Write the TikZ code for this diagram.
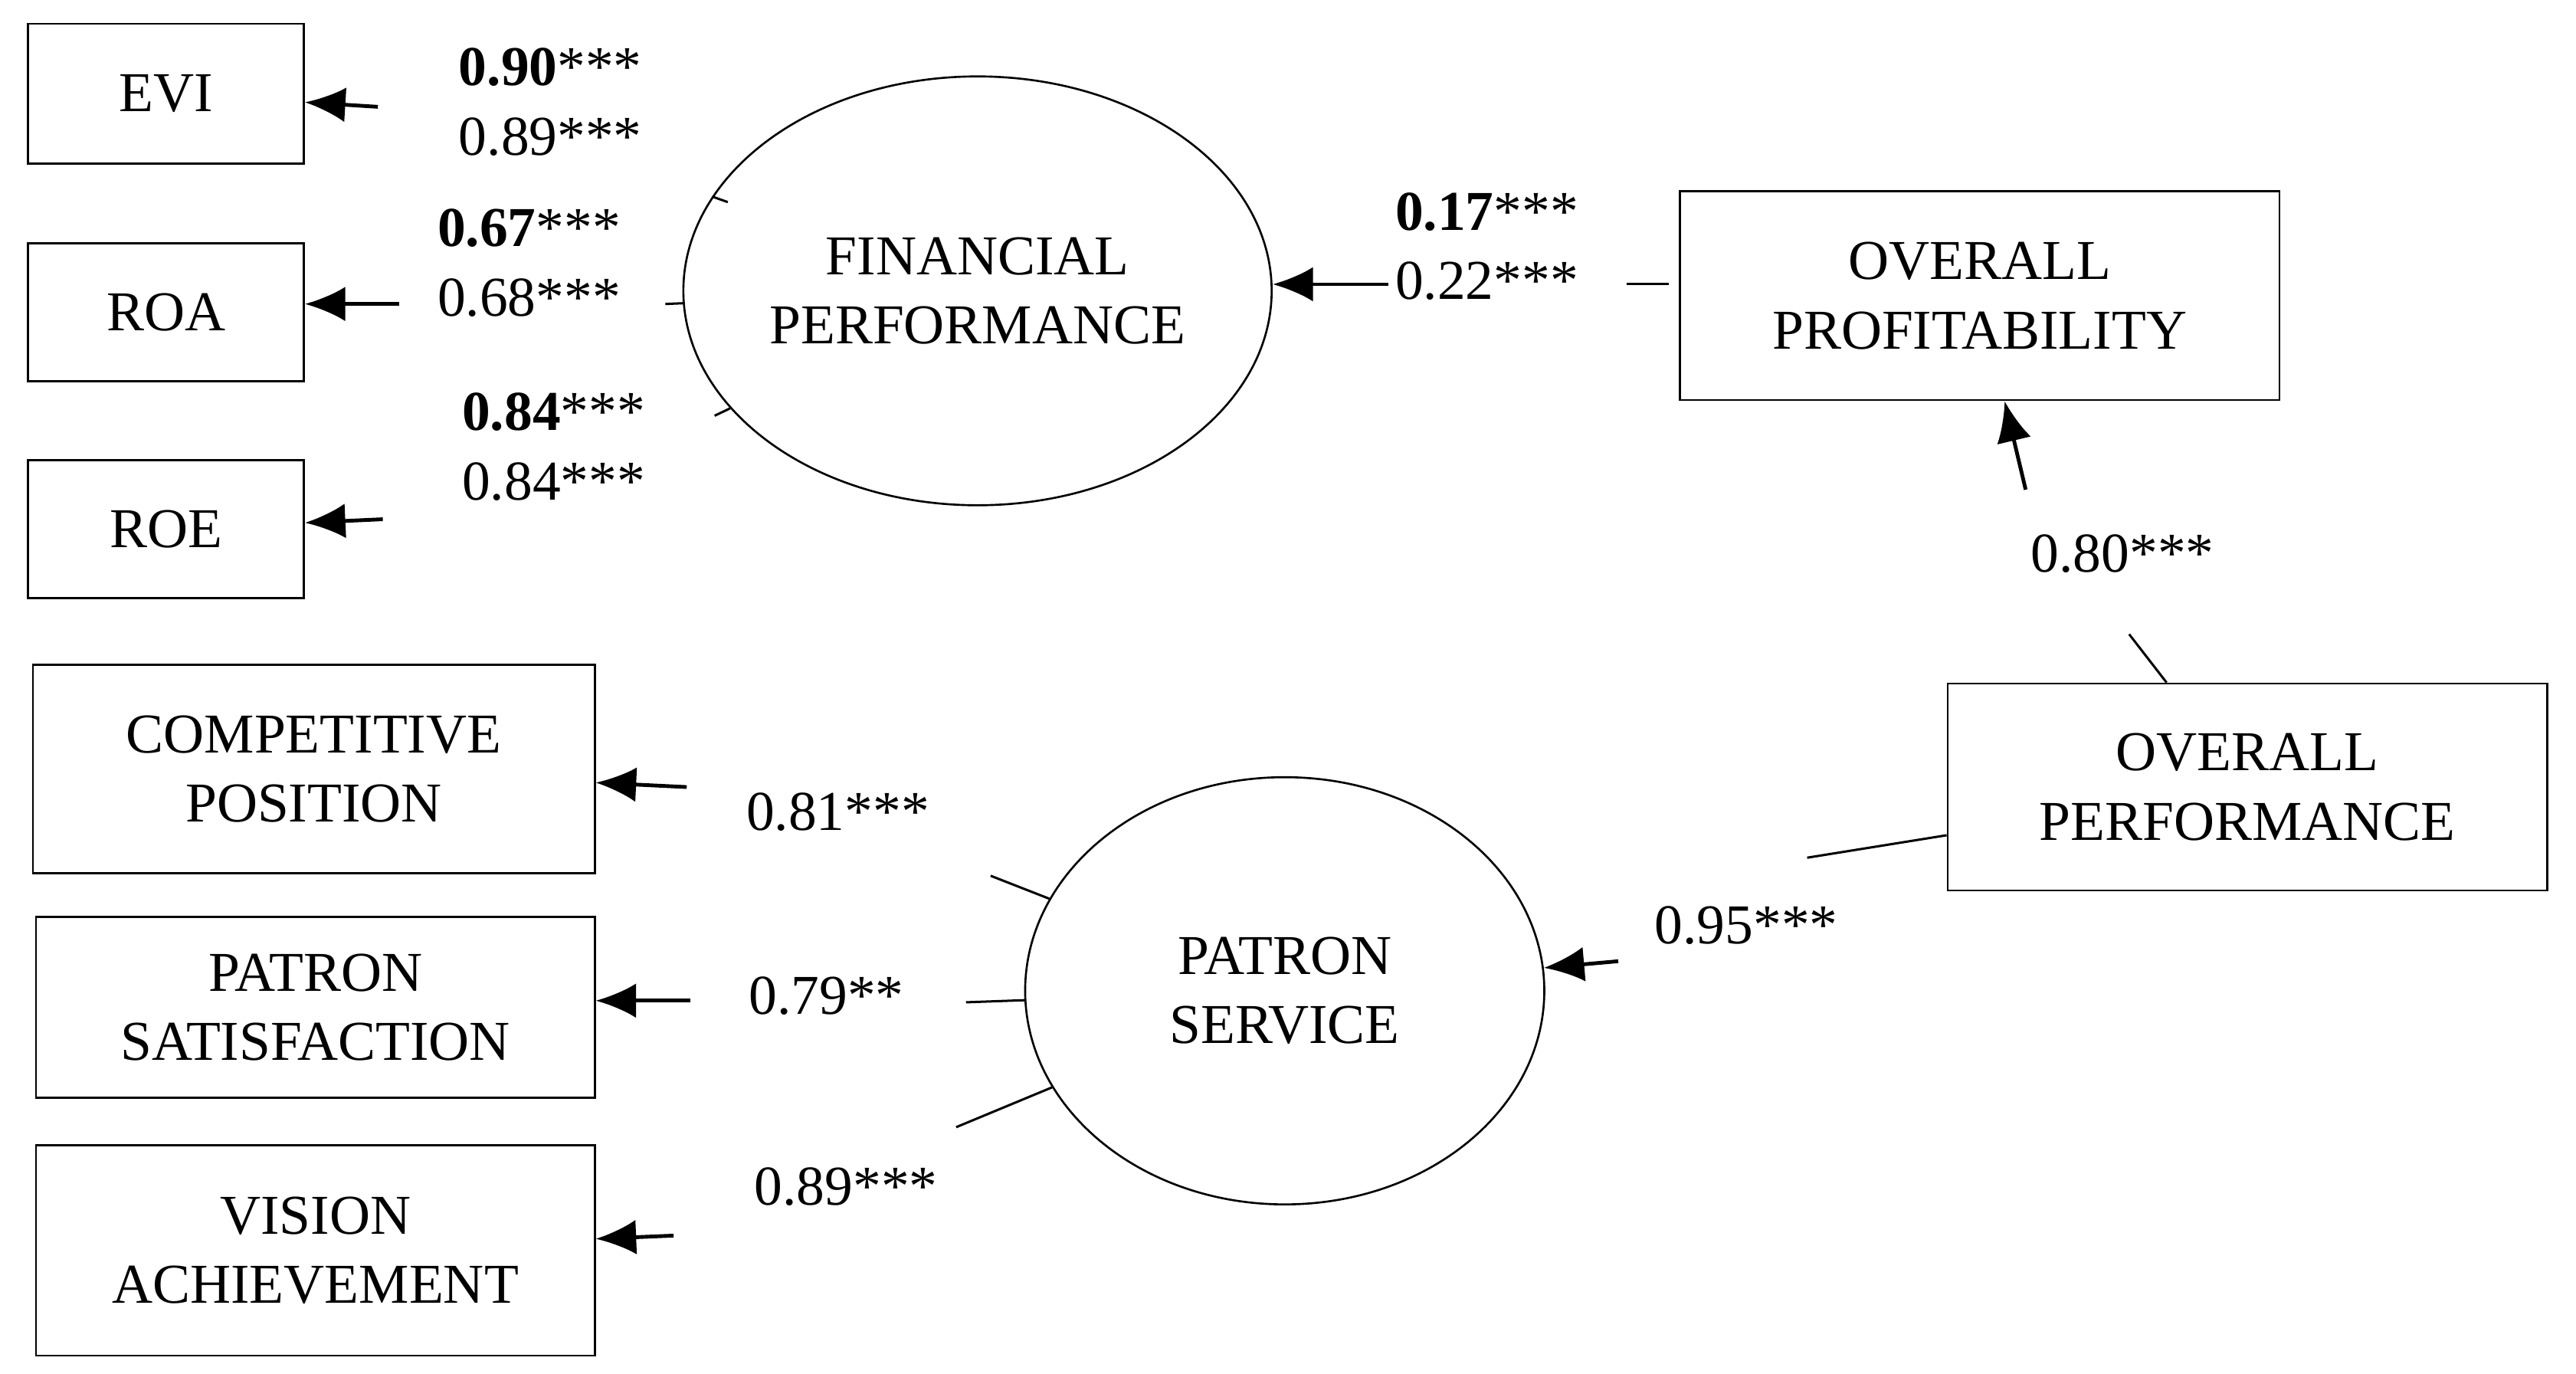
\documentclass[tikz,border=0pt]{standalone}
\usepackage{fontspec}
\setmainfont{Liberation Serif}
\usetikzlibrary{arrows.meta, shapes.geometric}
\begin{document}
\begin{tikzpicture}[x=0.02cm, y=-0.02cm,
    every node/.style={font=\fontsize{19.5}{24}\selectfont},
    box/.style={draw, line width=0.7pt, align=center, inner sep=0pt},
    latent/.style={draw, ellipse, line width=0.7pt, align=center, inner sep=0pt},
    arr/.style={-{Latex[length=14pt, width=12pt]}, line width=1.3pt},
    stub/.style={line width=0.8pt},
    lbl/.style={align=center, inner sep=0pt}]
  \useasboundingbox (0,0) rectangle (1568,836);
  % indicators
  \node[box, minimum width=168*0.02cm, minimum height=85*0.02cm] (evi) at (101,57) {EVI};
  \node[box, minimum width=168*0.02cm, minimum height=84*0.02cm] (roa) at (101,190) {ROA};
  \node[box, minimum width=168*0.02cm, minimum height=84*0.02cm] (roe) at (101,322) {ROE};
  \node[box, minimum width=342*0.02cm, minimum height=127*0.02cm] (comp) at (191,468) {COMPETITIVE\\POSITION};
  \node[box, minimum width=340*0.02cm, minimum height=110*0.02cm] (sat) at (192,613) {PATRON\\SATISFACTION};
  \node[box, minimum width=340*0.02cm, minimum height=128*0.02cm] (vis) at (192,761) {VISION\\ACHIEVEMENT};
  % latent variables
  \node[latent, minimum width=300*0.02cm, minimum height=261*0.02cm] (fin) at (595,177) {FINANCIAL\\PERFORMANCE};
  \node[latent, minimum width=316*0.02cm, minimum height=260*0.02cm] (pat) at (782,603) {PATRON\\SERVICE};
  % higher order
  \node[box, minimum width=365*0.02cm, minimum height=127*0.02cm] (prof) at (1205,180) {OVERALL\\PROFITABILITY};
  \node[box, minimum width=365*0.02cm, minimum height=126*0.02cm] (perf) at (1368,479) {OVERALL\\PERFORMANCE};
  % gap end points
  \coordinate (e1) at (443,123); \coordinate (e2) at (230,65);
  \coordinate (r1) at (405,185); \coordinate (r2) at (243,185);
  \coordinate (o1) at (435,253); \coordinate (o2) at (233,316);
  \coordinate (c1) at (603,533); \coordinate (c2) at (418,479);
  \coordinate (s1) at (588,610); \coordinate (s2) at (420,609);
  \coordinate (v1) at (582,686); \coordinate (v2) at (410,752);
  \coordinate (p1) at (990,173); \coordinate (p2) at (1016,173); \coordinate (p3) at (845,173);
  \coordinate (t1) at (1296,386); \coordinate (t2) at (1233,298);
  \coordinate (q1) at (1100,522); \coordinate (q2) at (985,585);
  % paths
  \draw[stub] (e1) -- (fin);  \draw[arr] (e2) -- (evi);
  \draw[stub] (r1) -- (fin);  \draw[arr] (r2) -- (roa.east |- r2);
  \draw[stub] (o1) -- (fin);  \draw[arr] (o2) -- (roe);
  \draw[stub] (c1) -- (pat);  \draw[arr] (c2) -- (comp);
  \draw[stub] (s1) -- (pat);  \draw[arr] (s2) -- (sat.east |- s2);
  \draw[stub] (v1) -- (pat);  \draw[arr] (v2) -- (vis);
  \draw[stub] (p1) -- (p2);   \draw[arr] (p3) -- (fin.east |- p3);
  \draw[stub] (t1) -- (perf); \draw[arr] (t2) -- (prof);
  \draw[stub] (q1) -- (perf); \draw[arr] (q2) -- (pat);
  % loadings
  \node[lbl] (l1) at (335,62) {\textbf{0.90}***\\0.89***};
  \node[lbl] (l2) at (322,160) {\textbf{0.67}***\\0.68***};
  \node[lbl] (l3) at (337,272) {\textbf{0.84}***\\0.84***};
  \node[lbl] (l4) at (905,150) {\textbf{0.17}***\\0.22***};
  \node[lbl] (l5) at (1292,337) {0.80***};
  \node[lbl] (l6) at (510,494) {0.81***};
  \node[lbl] (l7) at (503,606) {0.79**};
  \node[lbl] (l8) at (515,722) {0.89***};
  \node[lbl] (l9) at (1063,563) {0.95***};
\end{tikzpicture}
\end{document}
